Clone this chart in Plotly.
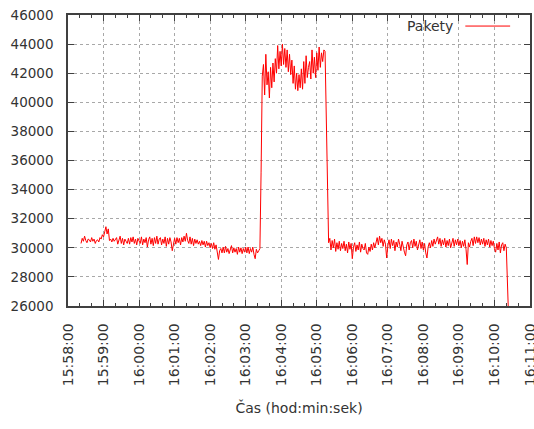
import plotly.graph_objects as go
import pandas as pd

# samples every 2 s, first one at 15:58:22
start_time = '2013-04-10 15:58:22'
sample_step = '2s'

# 15:58:22 - 16:03:24
pakety_pred = [
    30300, 30650, 30450, 30800, 30500, 30350, 30600, 30550, 30400, 30700,
    30450, 30600, 30300, 30500, 30550, 30400, 30700, 30600, 30900, 30750,
    31100, 31450, 30950, 31300, 30500, 30600, 30400, 30650, 30450, 30550,
    30700, 30250, 30550, 30800, 30300, 30650, 30200, 30600, 30450, 30300,
    30650, 30250, 30700, 30400, 30750, 30300, 30600, 30200, 30650, 30500,
    30300, 30750, 30200, 30600, 30350, 30700, 30050, 30550, 30750, 30250,
    30650, 30150, 30700, 30300, 30800, 30250, 30600, 30700, 30200, 30600,
    30300, 30750, 30100, 30650, 30250, 30700, 30400, 29800, 30200, 30650,
    30250, 30700, 30350, 30650, 30200, 30700, 30400, 30800, 30450, 31000,
    30500, 30300, 30750, 30250, 30650, 30150, 30600, 30300, 30550, 30250,
    30450, 30150, 30500, 30200, 30450, 30050, 30450, 30150, 30350, 30000,
    30300, 29950, 30350, 29900, 30200, 29800, 29200, 29800, 29950, 29650,
    30050, 29650, 30100, 29700, 29950, 29600, 29950, 30150, 29650, 30000,
    29700, 29950, 29550, 30050, 29700, 30000, 29600, 29950, 29700, 30050,
    29650, 30050, 29600, 29950, 29700, 30050, 29550, 29250, 29900, 29650,
    29800, 29950,
]
nabeh = [35200]
# 16:03:28 - 16:05:14
pakety_spicka = [
    41800, 42600, 40500, 43300, 41200, 42100, 40300, 42400, 41000, 42700,
    41400, 43000, 42000, 43900, 42300, 43500, 42500, 44000, 42600, 43700,
    42400, 43600, 42100, 43300, 41900, 42900, 41300, 42500, 40900, 42000,
    40800, 41900, 41000, 42300, 40900, 42800, 41300, 43200, 41700, 42400,
    42800, 41600, 43600, 42000, 43100, 41700, 43400, 42200, 43800, 42400,
    43400, 42800, 43600, 43500,
]
pokles = [39300, 32600]
# 16:05:20 - 16:10:20
pakety_po = [
    30350, 30650, 29850, 30500, 30000, 30600, 29750, 30350, 29900, 30450,
    29800, 30300, 29950, 30450, 29800, 30250, 29650, 30400, 29900, 30300,
    29250, 30050, 30350, 29750, 30200, 29850, 30400, 29700, 30250, 29950,
    29850, 30300, 29650, 29550, 30050, 29750, 30250, 29850, 30350, 30000,
    30450, 30700, 30200, 30800, 30350, 30650, 30100, 30550, 30250, 29300,
    30150, 30550, 29950, 30600, 30150, 30500, 29800, 30400, 30050, 30600,
    30250, 29800, 30450, 29950, 29700, 29450, 30200, 30400, 29850, 30350,
    30500, 30000, 30600, 30100, 30450, 29850, 30350, 30550, 29950, 30400,
    29850, 30300, 29650, 29300, 30050, 30350, 30000, 30500, 30100, 30600,
    30250, 30600, 30750, 30250, 30650, 30100, 30550, 30200, 30650, 30050,
    30500, 30150, 30600, 30000, 30450, 30650, 30100, 30550, 30200, 30600,
    30150, 30500, 30000, 30450, 30100, 30550, 29900, 28850, 30350, 30050,
    30450, 30650, 30150, 30750, 30300, 30750, 30350, 30700, 30200, 30600,
    30250, 30650, 30100, 30550, 30200, 30600, 30050, 30500, 30150, 30450,
    29950, 29700, 30300, 29850, 30400, 29650, 30200, 30350, 29800, 30250,
    30000,
]
konec = [27400, 25000]

y_ticks = list(range(26000, 46001, 2000))
x_range = ['2013-04-10 15:58:00', '2013-04-10 16:11:00']

pakety = pakety_pred + nabeh + pakety_spicka + pokles + pakety_po + konec
cas = pd.date_range(start_time, periods=len(pakety), freq=sample_step)

font_name = 'DejaVu Sans'
text_col = '#333333'
grid_col = '#a8a8a8'
border_col = '#404040'

fig = go.Figure()
fig.add_trace(go.Scatter(
    x=cas, y=pakety, mode='lines', name='Pakety',
    line=dict(color='#ff0000', width=1),
    showlegend=False,
))

# gnuplot-style key: text first, then the line sample
fig.add_annotation(
    x=0.838, y=0.962, xref='paper', yref='paper',
    text='Pakety', showarrow=False, xanchor='right', yanchor='middle',
    font=dict(family=font_name, size=14, color=text_col),
)
fig.add_shape(
    type='line', xref='paper', yref='paper',
    x0=0.860, x1=0.957, y0=0.962, y1=0.962,
    line=dict(color='#ff0000', width=1),
)

fig.update_layout(
    width=534, height=429,
    margin=dict(l=68, r=4, t=15, b=123),
    paper_bgcolor='white', plot_bgcolor='white',
    font=dict(family=font_name, size=12, color=text_col),
    xaxis=dict(
        type='date', range=x_range, automargin=False,
        dtick=60000, tick0='2013-04-10 15:58:00',
        tickformat='%H:%M:%S', tickangle=-90,
        ticks='inside', ticklen=6, tickcolor=border_col,
        showline=True, linecolor=border_col, linewidth=1.5, mirror='ticks',
        showgrid=True, gridcolor=grid_col, griddash='dot', gridwidth=1,
        minor=dict(dtick=20000, ticks='inside', ticklen=3, tickcolor=border_col, showgrid=False),
        zeroline=False, ticklabelstandoff=10, ticklabeloverflow='allow',
        title=dict(text='Čas (hod:min:sek)', standoff=18,
                   font=dict(family=font_name, size=14, color=text_col)),
        tickfont=dict(family=font_name, size=14, color=text_col),
    ),
    yaxis=dict(
        range=[26000, 46000], tickvals=y_ticks, tickformat='d', automargin=False,
        ticks='inside', ticklen=6, tickcolor=border_col,
        showline=True, linecolor=border_col, linewidth=1.5, mirror='ticks',
        showgrid=True, gridcolor=grid_col, griddash='dot', gridwidth=1,
        zeroline=False, ticklabelstandoff=10, ticklabeloverflow='allow',
        tickfont=dict(family=font_name, size=13.5, color=text_col),
    ),
)

# drop the default page margin so the figure sits at the window origin
fig.write_html(
    'out.html',
    config={'displayModeBar': False},
    post_script="document.body.style.margin='0';document.body.style.overflow='hidden';",
)
